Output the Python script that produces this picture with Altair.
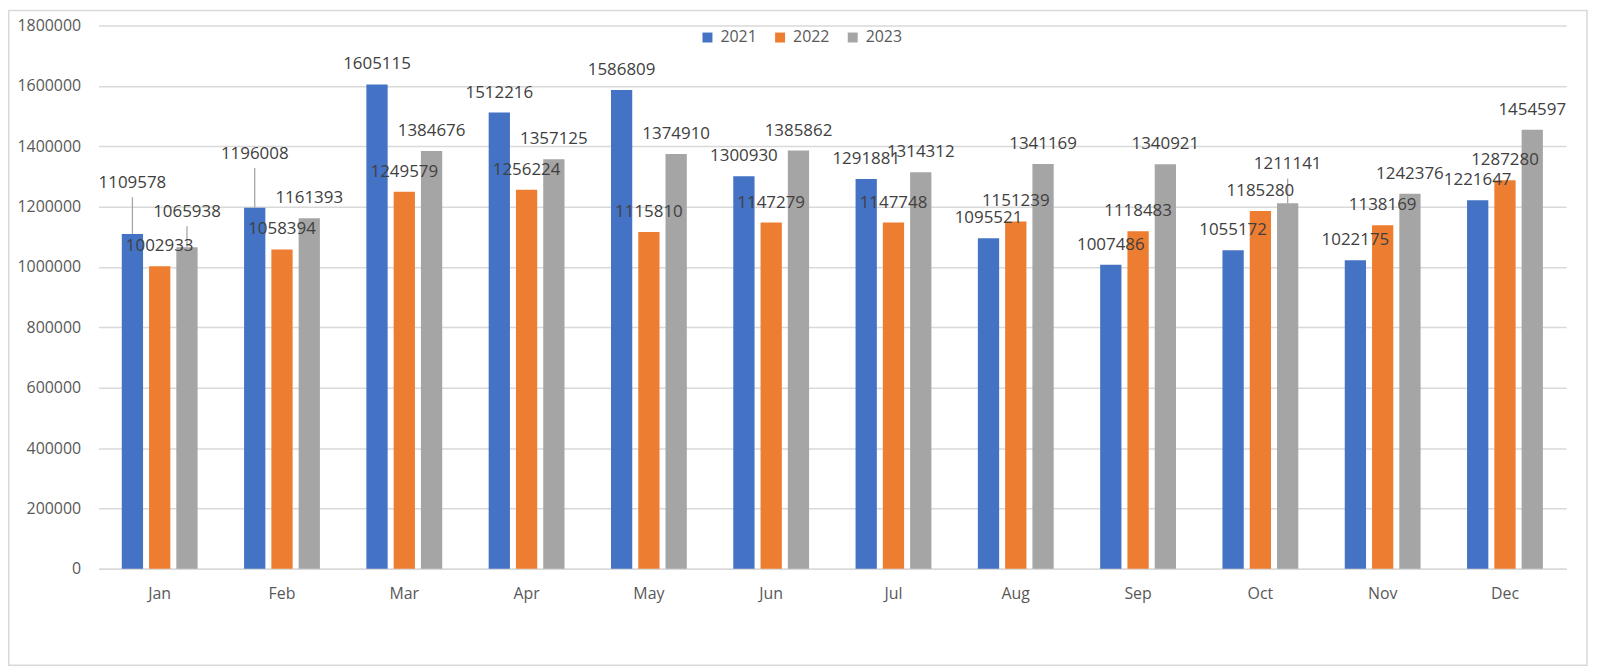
import altair as alt
import pandas as pd

months = ["Jan", "Feb", "Mar", "Apr", "May", "Jun", "Jul", "Aug", "Sep", "Oct", "Nov", "Dec"]
years = ["2021", "2022", "2023"]
v2021 = [1109578, 1196008, 1605115, 1512216, 1586809, 1300930, 1291881, 1095521, 1007486, 1055172, 1022175, 1221647]
v2022 = [1002933, 1058394, 1249579, 1256224, 1115810, 1147279, 1147748, 1151239, 1118483, 1185280, 1138169, 1287280]
v2023 = [1065938, 1161393, 1384676, 1357125, 1374910, 1385862, 1314312, 1341169, 1340921, 1211141, 1242376, 1454597]
y_ticks = [0, 200000, 400000, 600000, 800000, 1000000, 1200000, 1400000, 1600000, 1800000]
colors = ["#4472C4", "#ED7D31", "#A5A5A5"]

# extra lift (px) of the data labels that Excel moved up with a leader line
label_lift = {("Jan", "2021"): 31, ("Jan", "2023"): 15, ("Feb", "2021"): 34, ("Oct", "2023"): 19}

W, H = 1475, 546
YMAX = 1800000
upp = YMAX / H  # data units per pixel
FONT = "Open Sans"

rows = []
for yr, vals in zip(years, [v2021, v2022, v2023]):
    for m, v in zip(months, vals):
        rows.append({"month": m, "year": yr, "value": v, "lift": label_lift.get((m, yr), 0)})
df = pd.DataFrame(rows)

yscale = alt.Scale(domain=[0, YMAX], nice=False)

base = alt.Chart(df).encode(
    x=alt.X("month:N", sort=months,
            scale=alt.Scale(paddingInner=0.38, paddingOuter=0.19),
            axis=alt.Axis(title=None, labelAngle=0, labelFontSize=16, labelFont=FONT,
                          labelColor="#595959", labelPadding=17, ticks=False,
                          domainColor="#d9d9d9", domainWidth=1.5, grid=False)),
    xOffset=alt.XOffset("year:N", sort=years,
                        scale=alt.Scale(paddingInner=0.22, paddingOuter=0)),
)

bars = base.mark_bar().encode(
    y=alt.Y("value:Q", scale=yscale,
            axis=alt.Axis(title=None, values=y_ticks, format="d", labelFontSize=16,
                          labelFont=FONT, labelColor="#595959", labelPadding=18,
                          domain=False, ticks=False, gridColor="#d9d9d9", gridWidth=1.5)),
    color=alt.Color("year:N", sort=years,
                    scale=alt.Scale(domain=years, range=colors),
                    legend=alt.Legend(title=None, orient="none", legendX=604, legendY=4,
                                      direction="horizontal", symbolType="square",
                                      symbolSize=100, symbolStrokeWidth=0,
                                      labelFontSize=16, labelFont=FONT, labelColor="#595959",
                                      labelOffset=5, columnPadding=15, padding=0)),
)

leaders = base.transform_filter("datum.lift > 0").transform_calculate(
    top=f"datum.value + (datum.lift + 6) * {upp}"
).mark_rule(color="#a6a6a6", strokeWidth=1.3).encode(
    y=alt.Y("value:Q", scale=yscale, title=None),
    y2="top:Q",
)

labels = base.transform_calculate(
    label_y=f"datum.value + datum.lift * {upp}"
).mark_text(dy=-20, baseline="middle", fontSize=17, font=FONT, color="#404040").encode(
    y=alt.Y("label_y:Q", scale=yscale, title=None),
    text=alt.Text("value:Q", format="d"),
)

frame = alt.Chart(pd.DataFrame({"f": [0]})).mark_rect(
    fillOpacity=0, stroke="#d9d9d9", strokeWidth=1.5
).encode(
    x=alt.value(-90.25), x2=alt.value(1496), y=alt.value(-15.25), y2=alt.value(643)
)

chart = alt.layer(bars, leaders, labels, frame).properties(
    width=W, height=H,
    autosize=alt.AutoSizeParams(type="none"),
    padding={"left": 91, "top": 16, "right": 24, "bottom": 98},
).configure_view(strokeWidth=0)

chart.save("out.html", embed_options={"renderer": "svg", "actions": False})
